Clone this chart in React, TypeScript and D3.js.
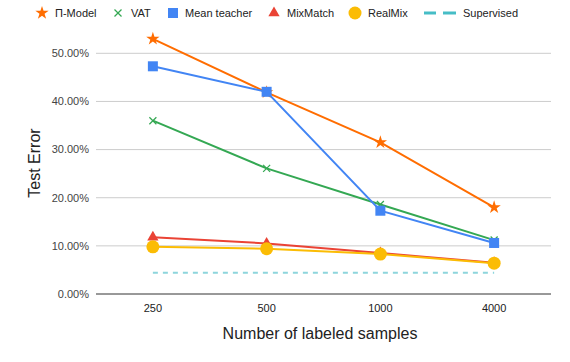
import React from "react";
import * as d3 from "d3";

const categories = ["250", "500", "1000", "4000"];
const piModel = [53.0, 41.9, 31.5, 18.0];
const vat = [36.0, 26.1, 18.6, 11.2];
const meanTeacher = [47.3, 42.0, 17.3, 10.6];
const mixMatch = [11.8, 10.5, 8.5, 6.5];
const realMix = [9.8, 9.4, 8.3, 6.4];
const supervised = [4.4, 4.4, 4.4, 4.4];
const yTicks = [0, 10, 20, 30, 40, 50];

type Series = { name: string; values: number[]; color: string; marker: string; dashed?: boolean };
const series: Series[] = [
  { name: "Π-Model", values: piModel, color: "#ff6d01", marker: "star" },
  { name: "VAT", values: vat, color: "#34a853", marker: "x" },
  { name: "Mean teacher", values: meanTeacher, color: "#4285f4", marker: "square" },
  { name: "MixMatch", values: mixMatch, color: "#ea4335", marker: "triangle" },
  { name: "RealMix", values: realMix, color: "#fbbc04", marker: "circle" },
  { name: "Supervised", values: supervised, color: "#8dd5dc", marker: "none", dashed: true },
];

const W = 570, H = 362;
const left = 96, right = 551, top = 53.3, bottom = 294;
const font = "'Liberation Sans', Arial, sans-serif";

function Marker({ type, x, y, color }: { type: string; x: number; y: number; color: string }) {
  if (type === "star") {
    const p = d3.symbol(d3.symbolStar, 55)();
    return <path d={p!} transform={`translate(${x},${y})`} fill={color} />;
  }
  if (type === "x") {
    const s = 3.5;
    return (
      <g stroke={color} strokeWidth={1.3}>
        <line x1={x - s} y1={y - s} x2={x + s} y2={y + s} />
        <line x1={x - s} y1={y + s} x2={x + s} y2={y - s} />
      </g>
    );
  }
  if (type === "square") return <rect x={x - 5} y={y - 5} width={10} height={10} fill={color} />;
  if (type === "triangle") {
    const p = d3.symbol(d3.symbolTriangle, 55)();
    return <path d={p!} transform={`translate(${x},${y})`} fill={color} />;
  }
  if (type === "circle") return <circle cx={x} cy={y} r={6.5} fill={color} />;
  return null;
}

export default function App() {
  const x = d3.scaleBand<string>().domain(categories).range([left, right]);
  const y = d3.scaleLinear().domain([0, 50]).range([bottom, top]);
  const cx = (c: string) => x(c)! + x.bandwidth() / 2;
  const line = d3
    .line<number>()
    .x((_, i) => cx(categories[i]))
    .y((v) => y(v));

  const legend = [
    { mx: 42, tx: 55 },
    { mx: 118, tx: 131 },
    { mx: 173, tx: 185 },
    { mx: 274, tx: 287 },
    { mx: 355, tx: 368 },
    { mx: 440, tx: 463 },
  ];

  return (
    <svg width={W} height={H} style={{ position: "absolute", left: 0, top: 0, background: "#fff" }} fontFamily={font}>
      {yTicks.map((t) => (
        <g key={t}>
          {t !== 0 && <line x1={left} x2={right} y1={y(t)} y2={y(t)} stroke="#cccccc" strokeWidth={1} />}
          <text x={89} y={y(t)} dy="0.35em" textAnchor="end" fontSize={11} fill="#444">
            {t.toFixed(2)}%
          </text>
        </g>
      ))}
      {categories.map((c) => (
        <text key={c} x={cx(c)} y={312} textAnchor="middle" fontSize={11} fill="#222">
          {c}
        </text>
      ))}
      <text x={320} y={339} textAnchor="middle" fontSize={16} fill="#222">
        Number of labeled samples
      </text>
      <text transform={`translate(40,163) rotate(-90)`} textAnchor="middle" fontSize={16} fill="#222">
        Test Error
      </text>
      {series.map((s) => (
        <g key={s.name}>
          <path
            d={line(s.values)!}
            fill="none"
            stroke={s.color}
            strokeWidth={2}
            strokeDasharray={s.dashed ? "5,5" : undefined}
          />
          {s.values.map((v, i) => (
            <Marker key={i} type={s.marker} x={cx(categories[i])} y={y(v)} color={s.color} />
          ))}
        </g>
      ))}
      <line x1={left} x2={right} y1={bottom} y2={bottom} stroke="#333" strokeWidth={1} />
      {series.map((s, i) => (
        <g key={s.name}>
          {s.marker === "none" ? (
            <g stroke="#46bdc6" strokeWidth={3}>
              <line x1={424} x2={436} y1={13} y2={13} />
              <line x1={443} x2={456} y1={13} y2={13} />
            </g>
          ) : (
            <Marker type={s.marker} x={legend[i].mx} y={13} color={s.color} />
          )}
          <text x={legend[i].tx} y={13} dy="0.35em" fontSize={11} fill="#222">
            {s.name}
          </text>
        </g>
      ))}
    </svg>
  );
}
